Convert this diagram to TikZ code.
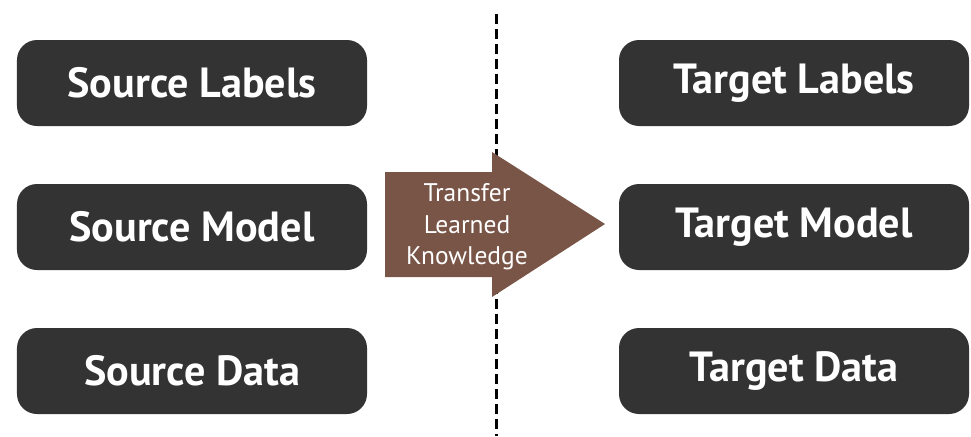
\documentclass[tikz,border=0pt]{standalone}
\usepackage{fontspec}
\newfontfamily\boxfont{PT Sans}
\usetikzlibrary{positioning}
\definecolor{boxgray}{HTML}{333333}
\definecolor{arrowbrown}{HTML}{795548}

\begin{document}
\begin{tikzpicture}[x=0.2mm, y=-0.2mm, node distance=28.8mm,
	every box/.style={fill=boxgray, rounded corners=4mm, minimum width=70mm, minimum height=17.2mm,
		text=white, font=\boxfont\bfseries\fontsize{24}{28}\selectfont}]
	\useasboundingbox (0,0) rectangle (971,436);

	% left column
	\node[every box] (slabels) at (192,83) {Source Labels};
	\node[every box] (smodel) [below of=slabels] {Source Model};
	\node[every box] (sdata) [below of=smodel] {Source Data};

	% right column
	\node[every box] (tlabels) at (794,83) {Target Labels};
	\node[every box] (tmodel) [below of=tlabels] {Target Model};
	\node[every box] (tdata) [below of=tmodel] {Target Data};

	% divider
	\coordinate (top) at (496,14);
	\coordinate (bottom) at (496,436);
	\draw[line width=0.6mm, dash pattern=on 2mm off 1mm] (top) -- (bottom);

	% transfer arrow
	\fill[arrowbrown] (385,172) -- (492,172) -- (492,152) -- (605,224) -- (492,297) -- (492,277) -- (385,277) -- cycle;
	\node[text=white, align=center, font=\boxfont\fontsize{14.5}{18}\selectfont] (transfer) at (467,227) {Transfer\\Learned\\Knowledge};
\end{tikzpicture}
\end{document}
